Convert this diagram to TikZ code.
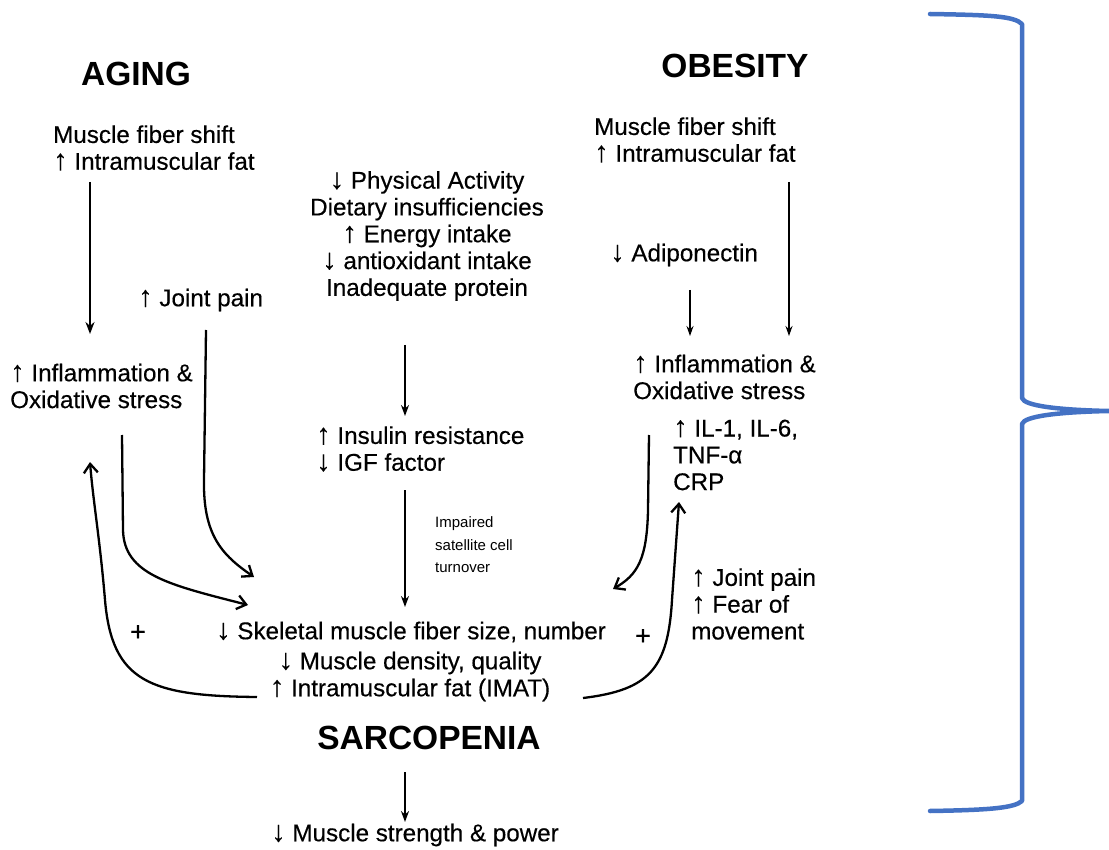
\documentclass[tikz,border=0pt]{standalone}
\usepackage{fontspec}
\setmainfont{Liberation Sans}
\newfontfamily\heavyfont[FakeBold=0.35]{Liberation Sans}
\usetikzlibrary{arrows.meta}
\definecolor{braceblue}{RGB}{68,114,196}
\newcommand{\UA}{{\fontsize{29}{26.5}\selectfont ↑}}
\newcommand{\DA}{{\fontsize{29}{26.5}\selectfont ↓}}
\begin{document}
\begin{tikzpicture}[x=1pt,y=-1pt,
  txt/.style={inner sep=0pt,font=\heavyfont\fontsize{24.2}{26.8}\selectfont},
  lblock/.style={txt,align=left,anchor=west},
  head/.style={inner sep=0pt,font=\fontsize{33.5}{36}\selectfont\bfseries},
  small/.style={inner sep=0pt,align=left,anchor=west,font=\fontsize{15}{22.5}\selectfont},
  sarr/.style={line width=2.6pt,-{Stealth[length=12pt,width=9pt]}},
  marr/.style={line width=1.9pt,-{Stealth[length=11pt,width=8pt]}},
  tarr/.style={line width=1.3pt,-{Stealth[length=10pt,width=7pt]}},
  carr/.style={line width=2.3pt,-{Straight Barb[length=9pt,width=14pt,line width=2.3pt]}},
  bracestyle/.style={draw=braceblue,line width=4.5pt,line cap=round,line join=round}
]
\useasboundingbox (0,0) rectangle (1109,850);

% headings
\node[head] (aging) at (136,74) {AGING};
\node[head] (obes) at (735,66) {OBESITY};
\node[head] (sarc) at (429,738) {SARCOPENIA};

% left column
\node[lblock] (lmfs) at (53,148) {Muscle fiber shift\\\UA{} Intramuscular fat};
\node[lblock] (ljp) at (138,300) {\UA{} Joint pain};
\node[lblock] (linf) at (10,386) {\UA{} Inflammation \&\\Oxidative stress};

% centre column
\node[txt,align=center] (diet) at (427,236) {\DA{} Physical Activity\\Dietary insufficiencies\\\UA{} Energy intake\\\DA{} antioxidant intake\\Inadequate protein};
\node[lblock] (ins) at (316,449) {\UA{} Insulin resistance\\\DA{} IGF factor};
\node[small] (imp) at (435,545) {Impaired\\satellite cell\\turnover};
\node[txt] (skel) at (411,632) {\DA{} Skeletal muscle fiber size, number};
\node[txt] (dens) at (410,663) {\DA{} Muscle density, quality};
\node[txt] (imat) at (410,690) {\UA{} Intramuscular fat (IMAT)};
\node[txt] (strength) at (415,835) {\DA{} Muscle strength \& power};
\node[txt,font=\heavyfont\fontsize{27}{27}\selectfont] (plusl) at (138,633) {+};
\node[txt,font=\heavyfont\fontsize{27}{27}\selectfont] (plusr) at (643,637) {+};

% right column
\node[lblock] (rmfs) at (594,140) {Muscle fiber shift\\\UA{} Intramuscular fat};
\node[lblock] (adipo) at (610,255) {\DA{} Adiponectin};
\node[lblock] (rinf) at (633,377) {\UA{} Inflammation \&\\Oxidative stress};
\node[lblock] (il) at (673,455) {\UA{} IL-1, IL-6,\\TNF-α\\CRP};
\node[lblock] (rjp) at (691,604) {\UA{} Joint pain\\\UA{} Fear of\\movement};

% connector end points
\coordinate (a1s) at (90,182);   \coordinate (a1e) at (90,334);
\coordinate (a2s) at (206,330);  \coordinate (a2e) at (254,577);
\coordinate (a3s) at (122,435);  \coordinate (a3e) at (248,605);
\coordinate (a4s) at (257,697);  \coordinate (a4e) at (90,462);
\coordinate (c1s) at (405,345);  \coordinate (c1e) at (405,416);
\coordinate (c2s) at (405,490);  \coordinate (c2e) at (405,607);
\coordinate (c3s) at (405,772);  \coordinate (c3e) at (405,822);
\coordinate (r1s) at (690,290);  \coordinate (r1e) at (690,336);
\coordinate (r2s) at (789,182);  \coordinate (r2e) at (789,336);
\coordinate (r3s) at (649,435);  \coordinate (r3e) at (613,589);
\coordinate (r4s) at (583,698);  \coordinate (r4e) at (679,502);

% left arrows
\draw[sarr] (a1s) -- (a1e);
\draw[carr] (a2s) -- (204,480) .. controls (203,535) and (222,555) .. (a2e);
\draw[carr] (a3s) -- (123,530) .. controls (124,575) and (170,585) .. (a3e);
\draw[carr] (a4s) .. controls (150,696) and (112,682) .. (105,600) .. controls (100,540) and (93,500) .. (a4e);

% centre arrows
\draw[marr] (c1s) -- (c1e);
\draw[marr] (c2s) -- (c2e);
\draw[marr] (c3s) -- (c3e);

% right arrows
\draw[tarr] (r1s) -- (r1e);
\draw[tarr] (r2s) -- (r2e);
\draw[carr] (r3s) -- (648,510) .. controls (647,560) and (637,575) .. (r3e);
\draw[carr] (r4s) .. controls (650,690) and (668,668) .. (672,600) -- (r4e);

% brace
\coordinate (bt) at (930,14);
\coordinate (btip) at (1109,411);
\coordinate (bb) at (930,811);
\draw[bracestyle] (bt) .. controls (990,15) and (1014,16) .. (1022,24) -- (1022,398)
  .. controls (1024,406) and (1060,410) .. (btip)
  .. controls (1060,412) and (1024,416) .. (1022,424) -- (1022,801)
  .. controls (1014,808) and (990,810) .. (bb);
\end{tikzpicture}
\end{document}
